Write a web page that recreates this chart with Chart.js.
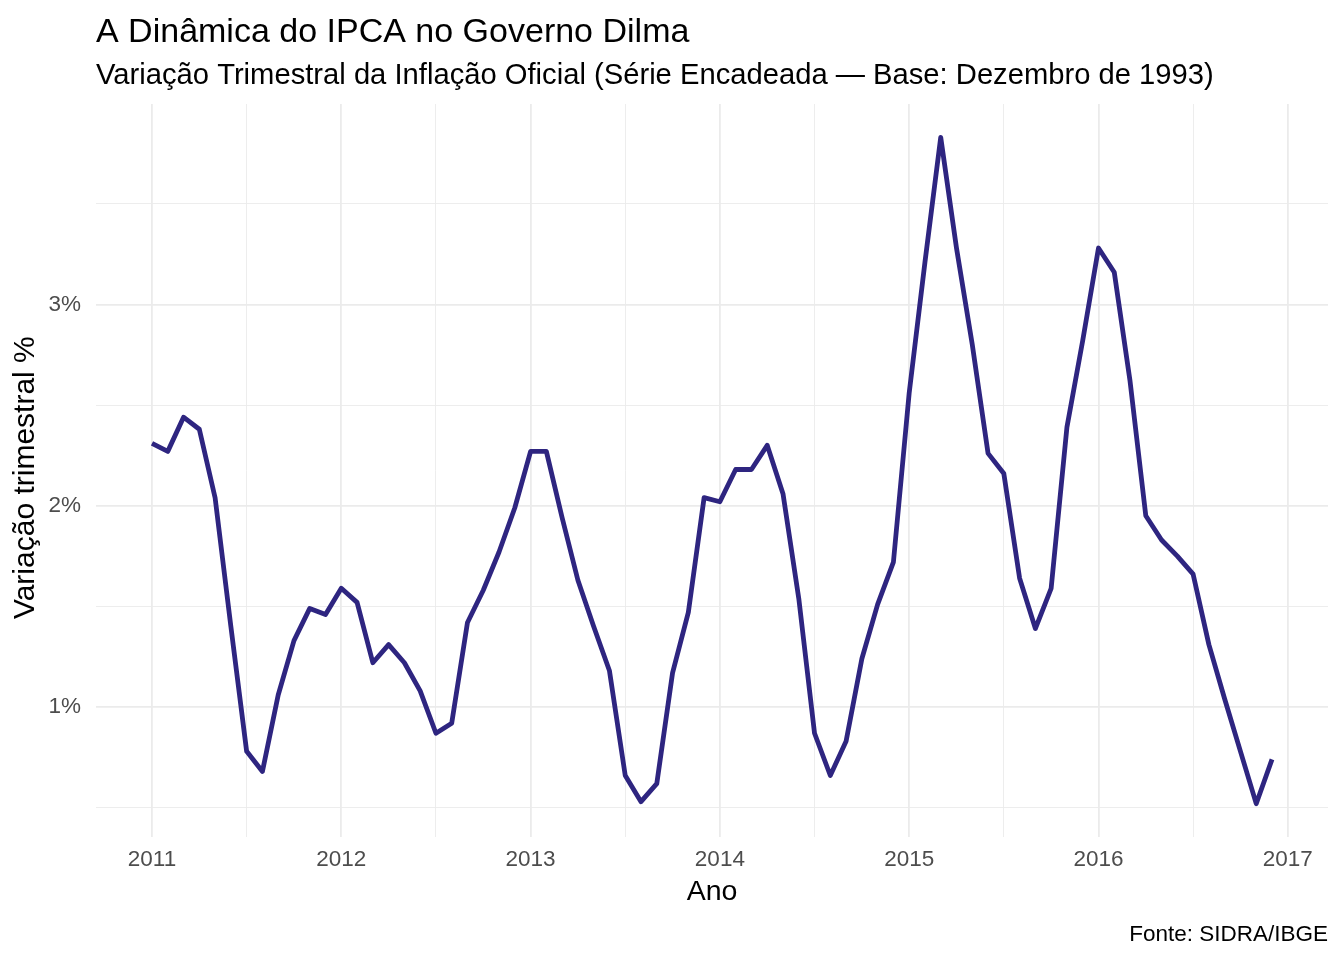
<!DOCTYPE html>
<html>
<head>
<meta charset="utf-8">
<script src="https://cdn.jsdelivr.net/npm/chart.js@4.4.1/dist/chart.umd.min.js"></script>
<style>
  html, body { margin: 0; padding: 0; background: #ffffff; }
  #wrap { width: 1344px; height: 960px; position: relative; }
</style>
</head>
<body>
<div id="wrap"><canvas id="c"></canvas></div>
<script>
// ---- Data (3-month IPCA variation, %) ----
const anos = [2011, 2012, 2013, 2014, 2015, 2016];
const ipca2011 = [2.31, 2.27, 2.44, 2.38, 2.04, 1.40, 0.78, 0.68, 1.06, 1.33, 1.49, 1.46];
const ipca2012 = [1.59, 1.52, 1.22, 1.31, 1.22, 1.08, 0.87, 0.92, 1.42, 1.58, 1.77, 1.99];
const ipca2013 = [2.27, 2.27, 1.94, 1.63, 1.40, 1.18, 0.66, 0.53, 0.62, 1.17, 1.47, 2.04];
const ipca2014 = [2.02, 2.18, 2.18, 2.30, 2.06, 1.54, 0.87, 0.66, 0.83, 1.24, 1.51, 1.72];
const ipca2015 = [2.56, 3.21, 3.83, 3.28, 2.80, 2.26, 2.16, 1.64, 1.39, 1.59, 2.39, 2.82];
const ipca2016 = [3.28, 3.16, 2.62, 1.95, 1.83, 1.75, 1.66, 1.31, 1.04, 0.78, 0.52, 0.74];
const seriesPorAno = [ipca2011, ipca2012, ipca2013, ipca2014, ipca2015, ipca2016];

// tick positions (major labelled, minor unlabelled)
const xTicks = [2011, 2011.5, 2012, 2012.5, 2013, 2013.5, 2014, 2014.5, 2015, 2015.5, 2016, 2016.5, 2017];
const yTicks = [0.5, 1, 1.5, 2, 2.5, 3, 3.5];

const titulo = 'A Dinâmica do IPCA no Governo Dilma';
const subtitulo = 'Variação Trimestral da Inflação Oficial (Série Encadeada — Base: Dezembro de 1993)';
const tituloX = 'Ano';
const tituloY = 'Variação trimestral %';
const fonte = 'Fonte: SIDRA/IBGE';

// ---- Build points ----
const pontos = [];
anos.forEach((ano, k) => {
  seriesPorAno[k].forEach((v, m) => pontos.push({ x: ano + m / 12, y: v }));
});

const xs = pontos.map(p => p.x), ys = pontos.map(p => p.y);
const xMin = Math.min(...xs), xMax = Math.max(...xs);
const yMin = Math.min(...ys), yMax = Math.max(...ys);
const xPad = (xMax - xMin) * 0.05, yPad = (yMax - yMin) * 0.05;

const FONT = '"Liberation Sans", Arial, Helvetica, sans-serif';
const GRID = '#EBEBEB';

const textPlugin = {
  id: 'ggText',
  afterDraw(chart) {
    const { ctx, chartArea } = chart;
    ctx.save();
    ctx.fillStyle = '#000000';
    ctx.textBaseline = 'alphabetic';
    ctx.textAlign = 'left';
    ctx.font = '34px ' + FONT;
    ctx.fillText(titulo, chartArea.left, 42);
    ctx.font = '29.2px ' + FONT;
    ctx.fillText(subtitulo, chartArea.left, 84);
    ctx.textAlign = 'right';
    ctx.font = '22.5px ' + FONT;
    ctx.fillText(fonte, chartArea.right, 941);
    ctx.restore();
  }
};

new Chart(document.getElementById('c'), {
  type: 'line',
  data: {
    datasets: [{
      data: pontos,
      borderColor: '#2E2580',
      borderWidth: 4.8,
      borderJoinStyle: 'round',
      borderCapStyle: 'butt',
      pointRadius: 0,
      pointHoverRadius: 0,
      tension: 0,
      fill: false
    }]
  },
  options: {
    responsive: true,
    maintainAspectRatio: false,
    animation: false,
    events: [],
    layout: { padding: { top: 104, right: 16, bottom: 43, left: 0 } },
    plugins: {
      legend: { display: false },
      tooltip: { enabled: false },
      title: { display: false }
    },
    scales: {
      x: {
        type: 'linear',
        min: xMin - xPad,
        max: xMax + xPad,
        afterBuildTicks: s => { s.ticks = xTicks.map(v => ({ value: v })); },
        afterFit: s => { s.height = 80; },
        border: { display: false },
        grid: {
          color: GRID,
          drawTicks: false,
          lineWidth: c => (c.tick && Number.isInteger(c.tick.value)) ? 1.8 : 0.9
        },
        ticks: {
          autoSkip: false,
          maxRotation: 0,
          padding: 9,
          color: '#4D4D4D',
          font: { family: FONT, size: 22.5 },
          callback: v => Number.isInteger(v) ? String(v) : ''
        },
        title: {
          display: true,
          text: tituloX,
          color: '#000000',
          font: { family: FONT, size: 28.5, lineHeight: 1.2 },
          padding: { top: 0, bottom: 8 }
        }
      },
      y: {
        type: 'linear',
        min: yMin - yPad,
        max: yMax + yPad,
        afterBuildTicks: s => { s.ticks = yTicks.map(v => ({ value: v })); },
        afterFit: s => { s.width = 96; },
        border: { display: false },
        grid: {
          color: GRID,
          drawTicks: false,
          lineWidth: c => (c.tick && Number.isInteger(c.tick.value)) ? 1.8 : 0.9
        },
        ticks: {
          autoSkip: false,
          padding: 15,
          color: '#4D4D4D',
          font: { family: FONT, size: 22.5 },
          callback: v => Number.isInteger(v) ? v + '%' : ''
        },
        title: {
          display: true,
          text: tituloY + ' \u2009',
          color: '#000000',
          font: { family: FONT, size: 30, lineHeight: 1.2 },
          padding: { top: 8, bottom: 0 }
        }
      }
    }
  },
  plugins: [textPlugin]
});
</script>
</body>
</html>
